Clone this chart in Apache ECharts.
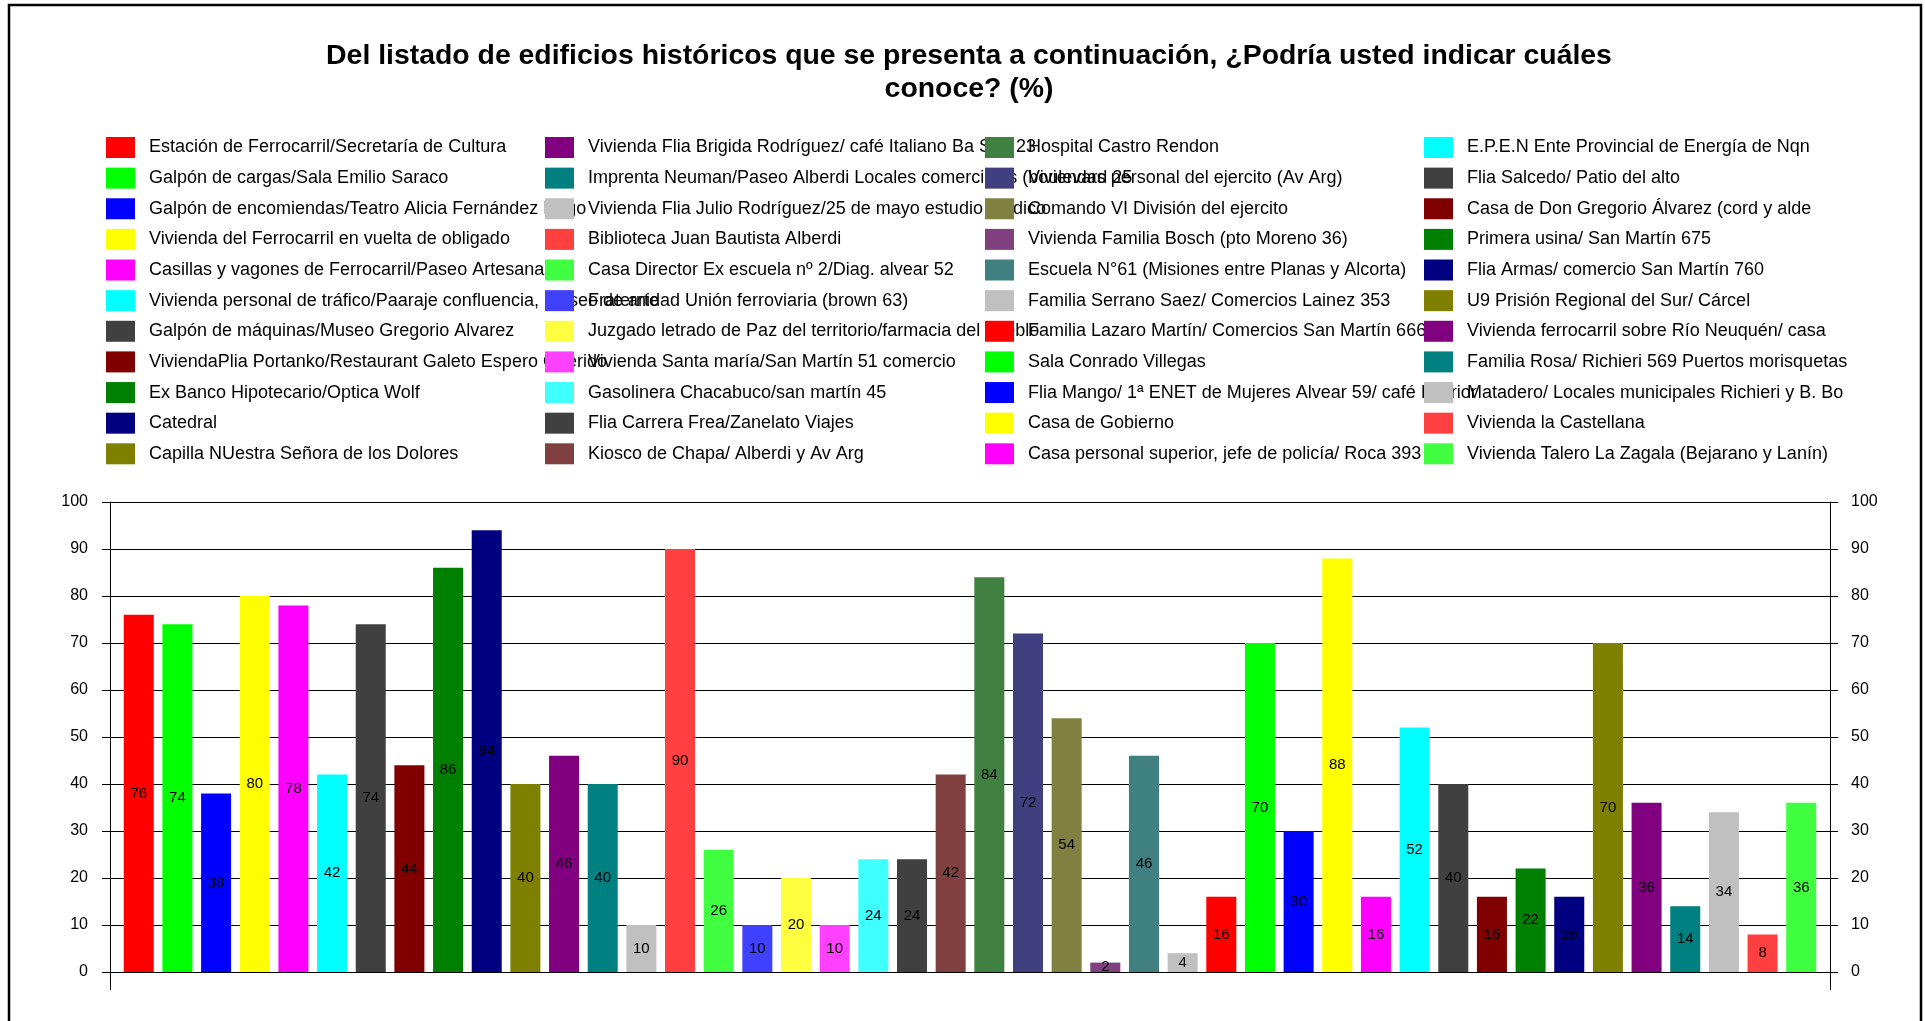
<!DOCTYPE html>
<html>
<head>
<meta charset="utf-8">
<script src="https://cdn.jsdelivr.net/npm/echarts@6/dist/echarts.min.js"></script>
<style>
html,body{margin:0;padding:0;background:#fff;}
#chart{width:1925px;height:1021px;}
</style>
</head>
<body>
<div id="chart"></div>
<script>
// ---- data ----
var buildings = [
  "Estación de Ferrocarril/Secretaría de Cultura",
  "Galpón de cargas/Sala Emilio Saraco",
  "Galpón de encomiendas/Teatro Alicia Fernández Rego",
  "Vivienda del Ferrocarril en vuelta de obligado",
  "Casillas y vagones de Ferrocarril/Paseo Artesanal",
  "Vivienda personal de tráfico/Paaraje confluencia, museo de arte",
  "Galpón de máquinas/Museo Gregorio Alvarez",
  "ViviendaPlia Portanko/Restaurant Galeto Espero Querido",
  "Ex Banco Hipotecario/Optica Wolf",
  "Catedral",
  "Capilla NUestra Señora de los Dolores",
  "Vivienda Flia Brigida Rodríguez/ café Italiano Ba San 23",
  "Imprenta Neuman/Paseo Alberdi Locales comerciales (boulevard 25",
  "Vivienda Flia Julio Rodríguez/25 de mayo estudio jurídico",
  "Biblioteca Juan Bautista Alberdi",
  "Casa Director Ex escuela nº 2/Diag. alvear 52",
  "Fraternidad Unión ferroviaria (brown 63)",
  "Juzgado letrado de Paz del territorio/farmacia del pueblo",
  "Vivienda Santa maría/San Martín 51 comercio",
  "Gasolinera Chacabuco/san martín 45",
  "Flia Carrera Frea/Zanelato Viajes",
  "Kiosco de Chapa/ Alberdi y Av Arg",
  "Hospital Castro Rendon",
  "Viviendas personal del ejercito (Av Arg)",
  "Comando VI División del ejercito",
  "Vivienda Familia Bosch (pto Moreno 36)",
  "Escuela N°61 (Misiones entre Planas y Alcorta)",
  "Familia Serrano Saez/ Comercios Lainez 353",
  "Familia Lazaro Martín/ Comercios San Martín 666",
  "Sala Conrado Villegas",
  "Flia Mango/ 1ª ENET de Mujeres Alvear 59/ café Interior",
  "Casa de Gobierno",
  "Casa personal superior, jefe de policía/ Roca 393",
  "E.P.E.N Ente Provincial de Energía de Nqn",
  "Flia Salcedo/ Patio del alto",
  "Casa de Don Gregorio Álvarez (cord y alde",
  "Primera usina/ San Martín 675",
  "Flia Armas/ comercio San Martín 760",
  "U9 Prisión Regional del Sur/ Cárcel",
  "Vivienda ferrocarril sobre Río Neuquén/ casa gris",
  "Familia Rosa/ Richieri 569 Puertos morisquetas",
  "Matadero/ Locales municipales Richieri y B. Bouquet",
  "Vivienda la Castellana",
  "Vivienda Talero La Zagala (Bejarano y Lanín)"
];
var percentages = [76,74,38,80,78,42,74,44,86,94,40,46,40,10,90,26,10,20,10,24,24,42,84,72,54,2,46,4,16,70,30,88,16,52,40,16,22,16,70,36,14,34,8,36];
var yTicks = [0,10,20,30,40,50,60,70,80,90,100];
var titleText = "Del listado de edificios históricos que se presenta a continuación, ¿Podría usted indicar cuáles\nconoce? (%)";

// ---- styles ----
var palette = ["#FF0000","#00FF00","#0000FF","#FFFF00","#FF00FF","#00FFFF","#404040","#800000","#008000","#000080","#808000","#800080","#008080","#C0C0C0",
               "#FF4040","#40FF40","#4040FF","#FFFF40","#FF40FF","#40FFFF","#404040","#804040","#408040","#404080","#808040","#804080","#408080","#C0C0C0"];
var FONT = "'Liberation Sans', Arial, sans-serif";

var chart = echarts.init(document.getElementById('chart'), null, {renderer:'canvas'});

var series = buildings.map(function(name, i){
  return {
    type: 'bar',
    name: name,
    data: [percentages[i]],
    barGap: '28.8%',
    barCategoryGap: '1.6%',
    itemStyle: {color: palette[i % palette.length]},
    label: {show: true, position: 'inside', color: '#000', fontSize: 15, fontFamily: FONT, textBorderWidth: 0},
    emphasis: {disabled: true}
  };
});

var colLefts = [106, 545, 985, 1424];
var legends = colLefts.map(function(left, c){
  var ts = {color: '#000', fontSize: 18, fontFamily: FONT, padding: [0,0,0,9]};
  if (c === 3) { ts.width = 383; ts.overflow = 'truncate'; ts.ellipsis = ''; }
  return {
    data: buildings.slice(c*11, c*11+11),
    orient: 'vertical',
    left: left,
    top: 137,
    padding: 0,
    itemWidth: 29,
    itemHeight: 21,
    itemGap: 9.63,
    icon: 'rect',
    selectedMode: false,
    textStyle: ts
  };
});

var yAxisBase = {
  type: 'value', min: yTicks[0], max: yTicks[yTicks.length-1], interval: 10,
  axisLine: {show: true, lineStyle: {color: '#000', width: 1}},
  axisTick: {show: true, length: 8, lineStyle: {color: '#000'}},
  axisLabel: {color: '#000', fontSize: 16, fontFamily: FONT}
};

chart.setOption({
  animation: false,
  backgroundColor: '#fff',
  title: {
    text: titleText,
    left: 969, textAlign: 'center', top: 40, padding: 0,
    textStyle: {fontSize: 28.4, fontWeight: 'bold', fontFamily: FONT, color: '#000', lineHeight: 33}
  },
  legend: legends,
  grid: {left: 110, right: 95, top: 502, bottom: 49, containLabel: false},
  xAxis: {
    type: 'category', data: [''],
    axisLine: {show: true, lineStyle: {color: '#000'}},
    axisTick: {show: false}, axisLabel: {show: false}, splitLine: {show: false}
  },
  yAxis: [
    Object.assign({}, yAxisBase, {position: 'left', splitLine: {show: true, lineStyle: {color: '#000', width: 1}},
      axisLabel: Object.assign({}, yAxisBase.axisLabel, {margin: 22})}),
    Object.assign({}, yAxisBase, {position: 'right', splitLine: {show: false},
      axisLabel: Object.assign({}, yAxisBase.axisLabel, {margin: 21})})
  ],
  series: series
});

// decorations: frame and axis extensions below zero
var zeroY = chart.convertToPixel({yAxisIndex: 0}, 0);
chart.setOption({
  graphic: [
    {type: 'rect', shape: {x: 9, y: 5, width: 1912, height: 1040}, style: {fill: 'none', stroke: '#000', lineWidth: 2.5}, silent: true},
    {type: 'line', shape: {x1: 110.5, y1: zeroY, x2: 110.5, y2: zeroY + 18}, style: {stroke: '#000', lineWidth: 1}, silent: true},
    {type: 'line', shape: {x1: 1830.5, y1: zeroY, x2: 1830.5, y2: zeroY + 18}, style: {stroke: '#000', lineWidth: 1}, silent: true}
  ]
});
</script>
</body>
</html>
